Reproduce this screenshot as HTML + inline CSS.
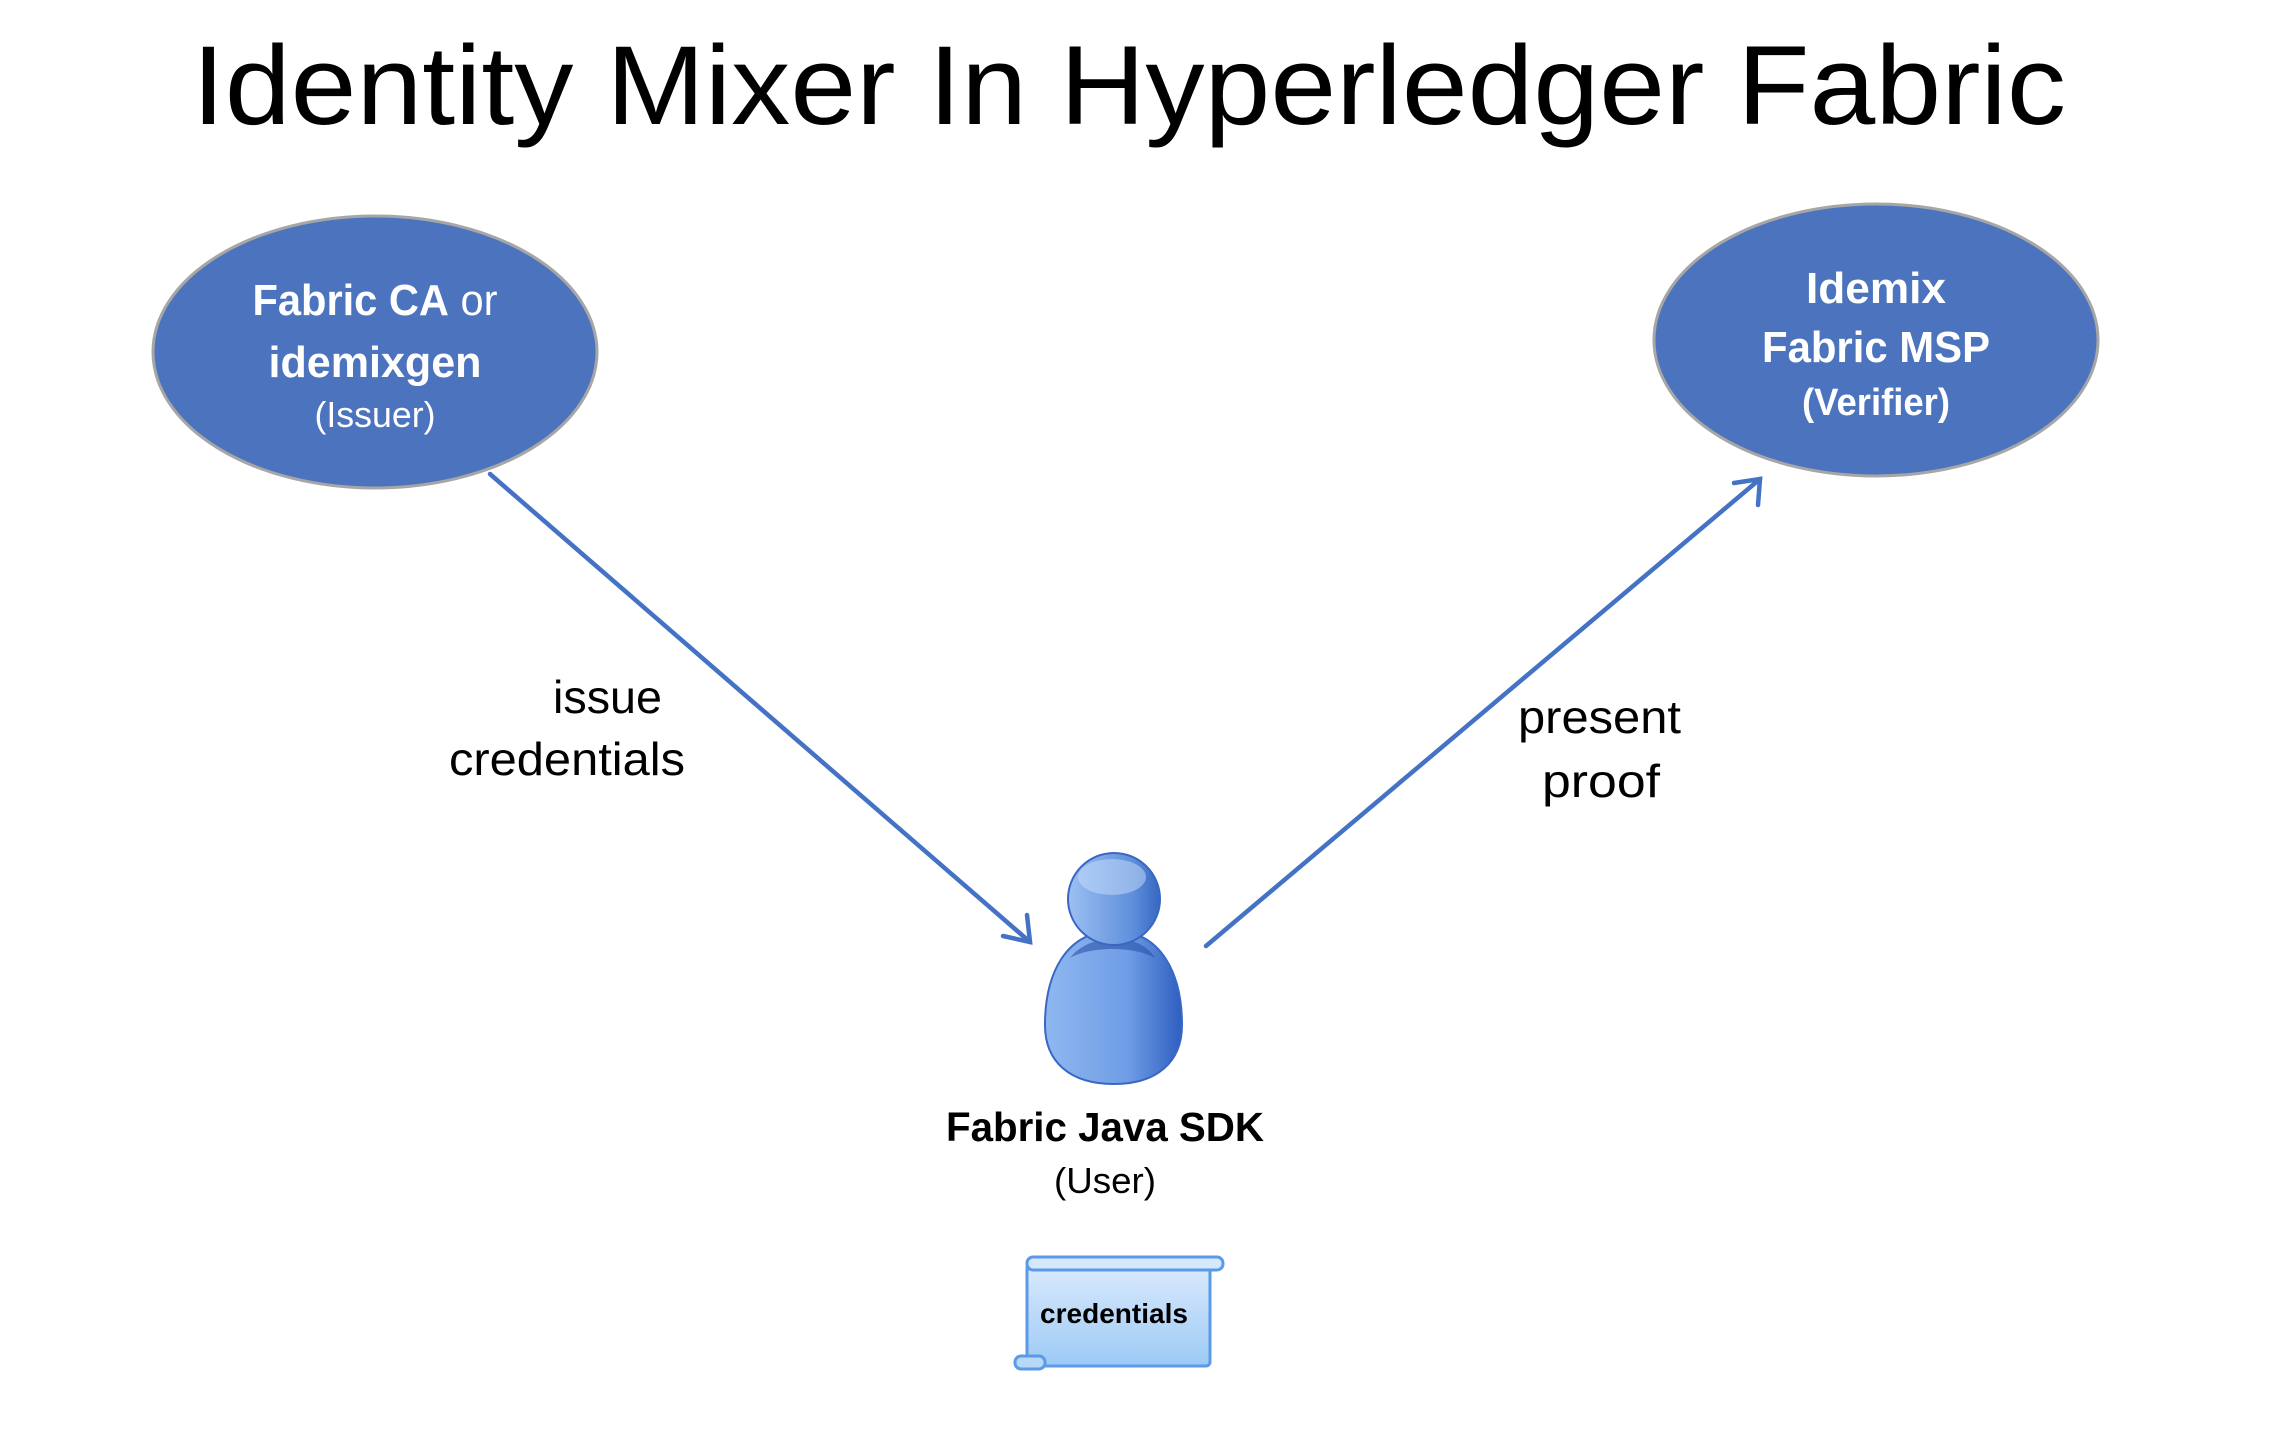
<!DOCTYPE html>
<html><head><meta charset="utf-8"><style>
html,body{margin:0;padding:0;background:#fff;}
svg{display:block;}
text{font-family:"Liberation Sans",sans-serif;}
</style></head><body>
<svg width="2270" height="1444" viewBox="0 0 2270 1444" xmlns="http://www.w3.org/2000/svg">
<defs>
<linearGradient id="body" x1="0" y1="0" x2="1" y2="0">
<stop offset="0" stop-color="#8fb8f0"/><stop offset="0.6" stop-color="#6f9de6"/><stop offset="1" stop-color="#2f5fc0"/>
</linearGradient>
<linearGradient id="head" x1="0" y1="0" x2="1" y2="0">
<stop offset="0" stop-color="#9cc0f2"/><stop offset="0.7" stop-color="#5f8fdc"/><stop offset="1" stop-color="#3767c0"/>
</linearGradient>
<linearGradient id="scroll" x1="0" y1="0" x2="0" y2="1">
<stop offset="0" stop-color="#dbeafc"/><stop offset="1" stop-color="#9ccaf5"/>
</linearGradient>
</defs>
<text x="1129" y="124" font-size="112" text-anchor="middle" textLength="1874" lengthAdjust="spacingAndGlyphs" fill="#000">Identity Mixer In Hyperledger Fabric</text>

<ellipse cx="375" cy="352" rx="222" ry="136" fill="#4b73be" stroke="#a6a6a6" stroke-width="3"/>
<text x="375" y="315" font-size="44" fill="#fff" text-anchor="middle" textLength="245" lengthAdjust="spacingAndGlyphs"><tspan font-weight="bold">Fabric CA</tspan> or</text>
<text x="375" y="377" font-size="44" fill="#fff" font-weight="bold" text-anchor="middle" textLength="213" lengthAdjust="spacingAndGlyphs">idemixgen</text>
<text x="375" y="427" font-size="36" fill="#fff" text-anchor="middle" textLength="121" lengthAdjust="spacingAndGlyphs">(Issuer)</text>

<ellipse cx="1876" cy="340" rx="222" ry="136" fill="#4b73be" stroke="#a6a6a6" stroke-width="3"/>
<text x="1876" y="303" font-size="44" fill="#fff" font-weight="bold" text-anchor="middle" textLength="140" lengthAdjust="spacingAndGlyphs">Idemix</text>
<text x="1876" y="362" font-size="44" fill="#fff" font-weight="bold" text-anchor="middle" textLength="228" lengthAdjust="spacingAndGlyphs">Fabric MSP</text>
<text x="1876" y="415" font-size="38" fill="#fff" font-weight="bold" text-anchor="middle" textLength="148" lengthAdjust="spacingAndGlyphs">(Verifier)</text>

<g stroke="#4472c4" stroke-width="4.5" fill="none" stroke-linecap="round">
<line x1="490" y1="474" x2="1030" y2="942"/>
<polyline points="1003,936 1030,942 1027,915"/>
<line x1="1206" y1="946" x2="1760" y2="479"/>
<polyline points="1734,483 1760,479 1758,505"/>
</g>

<text x="662" y="713" font-size="46" text-anchor="end" textLength="109" lengthAdjust="spacingAndGlyphs">issue</text>
<text x="449" y="775" font-size="46" textLength="236" lengthAdjust="spacingAndGlyphs">credentials</text>
<text x="1518" y="733" font-size="46" textLength="163" lengthAdjust="spacingAndGlyphs">present</text>
<text x="1542" y="797" font-size="46" textLength="118" lengthAdjust="spacingAndGlyphs">proof</text>

<g transform="translate(-5,0)">
<path d="M1119,931 C1070,931 1050,975 1050,1025 C1050,1062 1075,1084 1119,1084 C1162,1084 1187,1062 1187,1025 C1187,975 1167,931 1119,931 Z" fill="url(#body)" stroke="#3a66c4" stroke-width="2"/>
<path d="M1075,958 C1095,932 1145,932 1160,958 C1140,946 1095,946 1075,958 Z" fill="#2c52a8" opacity="0.6"/>
<circle cx="1119" cy="899" r="46" fill="url(#head)" stroke="#3a66c4" stroke-width="2"/>
<ellipse cx="1117" cy="877" rx="34" ry="18" fill="#c8defa" opacity="0.5"/>

<text x="1110" y="1141" font-size="41" font-weight="bold" text-anchor="middle" textLength="318" lengthAdjust="spacingAndGlyphs">Fabric Java SDK</text>
<text x="1110" y="1193" font-size="36" text-anchor="middle" textLength="102" lengthAdjust="spacingAndGlyphs">(User)</text>

<rect x="1032" y="1264" width="183" height="102" rx="4" fill="url(#scroll)" stroke="#5a9ae6" stroke-width="3"/>
<rect x="1032" y="1257" width="196" height="13" rx="6" fill="#d6e8fc" stroke="#5a9ae6" stroke-width="3"/>
<rect x="1020" y="1356" width="30" height="13" rx="6" fill="#b8d8f8" stroke="#5a9ae6" stroke-width="3"/>
<text x="1119" y="1323" font-size="28" font-weight="bold" text-anchor="middle" textLength="148" lengthAdjust="spacingAndGlyphs">credentials</text>
</g>
</svg>
</body></html>
